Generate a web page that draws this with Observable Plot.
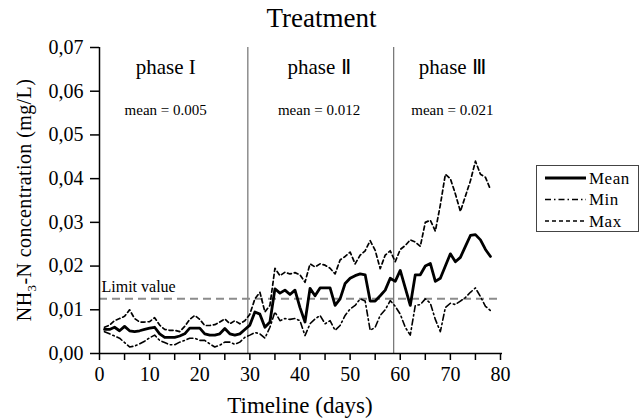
<!DOCTYPE html>
<html><head><meta charset="utf-8">
<script src="https://cdn.jsdelivr.net/npm/d3@7"></script>
<script src="https://cdn.jsdelivr.net/npm/@observablehq/plot@0.6"></script>
<style>
body{margin:0;background:#fff}
svg, svg text, svg tspan{font-family:"Liberation Serif","Times New Roman",serif !important}
</style>
</head><body><div id="chart"></div>
<script>
const days = [1,2,3,4,5,6,7,8,9,10,11,12,13,14,15,16,17,18,19,20,21,22,23,24,25,26,27,28,29,30,31,32,33,34,35,36,37,38,39,40,41,42,43,44,45,46,47,48,49,50,51,52,53,54,55,56,57,58,59,60,61,62,63,64,65,66,67,68,69,70,71,72,73,74,75,76,77,78];
const meanValues = [0.0055,0.0055,0.006,0.0052,0.0062,0.0052,0.005,0.0052,0.0055,0.0058,0.006,0.0045,0.0037,0.0037,0.0037,0.004,0.0045,0.0058,0.0058,0.0058,0.0045,0.0042,0.0042,0.0045,0.0057,0.0045,0.0042,0.0045,0.0055,0.0065,0.0095,0.009,0.006,0.0072,0.0148,0.0138,0.0145,0.0135,0.0145,0.0105,0.0072,0.0149,0.0132,0.015,0.015,0.015,0.011,0.0125,0.016,0.0172,0.0178,0.0182,0.018,0.012,0.012,0.0132,0.0145,0.0172,0.0165,0.019,0.015,0.011,0.018,0.018,0.02,0.0206,0.0165,0.0172,0.02,0.0228,0.021,0.022,0.0245,0.027,0.0272,0.026,0.0238,0.0222];
const minValues = [0.005,0.0045,0.004,0.0035,0.0025,0.0015,0.0017,0.0022,0.0028,0.0036,0.0042,0.003,0.0025,0.002,0.002,0.0026,0.003,0.0035,0.0035,0.003,0.003,0.0022,0.0015,0.0019,0.0026,0.0026,0.0021,0.0026,0.0037,0.0042,0.0048,0.0045,0.0035,0.006,0.0095,0.0075,0.008,0.0078,0.008,0.0075,0.0041,0.0068,0.0079,0.0087,0.0068,0.0075,0.0053,0.0064,0.0087,0.0102,0.011,0.0125,0.012,0.0053,0.006,0.0087,0.01,0.0121,0.0108,0.009,0.006,0.0042,0.011,0.0112,0.0125,0.0115,0.0078,0.005,0.0105,0.0115,0.0112,0.012,0.0128,0.014,0.015,0.013,0.0108,0.0098];
const maxValues = [0.006,0.0065,0.0075,0.008,0.0085,0.01,0.008,0.0072,0.0072,0.0073,0.0082,0.0065,0.0055,0.0053,0.0053,0.005,0.0062,0.0078,0.0087,0.0078,0.0064,0.0064,0.0066,0.0072,0.0079,0.0068,0.0075,0.0068,0.0075,0.009,0.0125,0.014,0.0095,0.011,0.0195,0.0178,0.0186,0.0182,0.0185,0.018,0.0163,0.0205,0.0198,0.0205,0.0202,0.0195,0.0182,0.0214,0.0222,0.0232,0.0205,0.0225,0.0235,0.0258,0.0236,0.0194,0.0225,0.0235,0.021,0.0238,0.0247,0.026,0.0255,0.0245,0.03,0.0305,0.028,0.034,0.041,0.04,0.0365,0.0325,0.036,0.0395,0.044,0.041,0.0403,0.0375];

const xTicks = [0,5,10,15,20,25,30,35,40,45,50,55,60,65,70,75,80];
const yTicks = [0,0.01,0.02,0.03,0.04,0.05,0.06,0.07];
const phaseBounds = [29.6, 58.7];
const phaseNames = ["phase I", "phase Ⅱ", "phase Ⅲ"];
const phaseMeans = ["mean = 0.005", "mean = 0.012", "mean = 0.021"];
const phaseCenters = [13.2, 43.8, 70.4];
const limitValue = 0.0125;
const seriesNames = ["Mean", "Min", "Max"];

const rows = days.map((d, i) => ({day: d, mean: meanValues[i], min: minValues[i], max: maxValues[i]}));
const phases = phaseNames.map((n, i) => ({name: n, mean: phaseMeans[i], x: phaseCenters[i]}));

const chart = Plot.plot({
  width: 642, height: 419,
  marginLeft: 99, marginRight: 142, marginTop: 47, marginBottom: 66,
  x: {domain: [0, 80]},
  y: {domain: [0, 0.07]},
  style: {color: "#000", background: "#fff"},
  marks: [
    Plot.axisY({ticks: yTicks, tickFormat: d => d.toFixed(2).replace(".", ","), tickSize: 9, tickPadding: 7, fontSize: 20, label: null, stroke: "#000", strokeWidth: 1.5}),
    Plot.axisX({ticks: xTicks, tickFormat: d => d % 10 === 0 ? String(d) : "", tickSize: 7, tickPadding: 6, fontSize: 20, label: null, stroke: "#000", strokeWidth: 1.5}),
    Plot.ruleX(phaseBounds, {y1: 0, y2: 0.07, stroke: "#555", strokeWidth: 1}),
    Plot.ruleY([limitValue], {x1: 0, x2: 80, stroke: "#8c8c8c", strokeWidth: 2, strokeDasharray: "8,5"}),
    Plot.text(["Limit value"], {x: 0.4, y: limitValue, dy: -12, textAnchor: "start", fontSize: 16, letterSpacing: 0.6}),
    Plot.line(rows, {x: "day", y: "min", stroke: "#000", strokeWidth: 1.6, strokeDasharray: "6,3,1.5,3"}),
    Plot.line(rows, {x: "day", y: "max", stroke: "#000", strokeWidth: 1.7, strokeDasharray: "4,3"}),
    Plot.line(rows, {x: "day", y: "mean", stroke: "#000", strokeWidth: 2.8}),
    Plot.ruleX([0], {y1: 0, y2: 0.07, stroke: "#000", strokeWidth: 1.5}),
    Plot.ruleY([0], {x1: 0, x2: 80.4, stroke: "#000", strokeWidth: 1.5}),
    Plot.text(phases, {x: "x", y: 0.0655, text: "name", fontSize: 21, letterSpacing: 0.7}),
    Plot.text(phases, {x: "x", y: 0.0556, text: "mean", fontSize: 15, letterSpacing: 0.8}),
    Plot.text(["Treatment"], {frameAnchor: "top", lineAnchor: "middle", dy: -29, dx: 21.5, fontSize: 27, letterSpacing: 0.8}),
    Plot.text(["Timeline (days)"], {frameAnchor: "bottom", lineAnchor: "middle", dy: 52, fontSize: 23, letterSpacing: 0.75})
  ]
});
document.getElementById("chart").append(chart);

const svg = d3.select(chart);
svg.selectAll("text").filter(function() { return this.getAttribute("letter-spacing"); }).each(function() {});
// y axis label with subscript
const yl = svg.append("text")
  .attr("transform", "translate(31,200) rotate(-90)")
  .attr("text-anchor", "middle")
  .attr("font-size", 20)
  .attr("letter-spacing", 0.4)
  .attr("fill", "#000");
yl.append("tspan").text("NH");
yl.append("tspan").attr("font-size", 13).attr("dy", 5).text("3");
yl.append("tspan").attr("dy", -5).text("-N concentration (mg/L)");

// legend
const lg = svg.append("g");
lg.append("rect").attr("x", 536.5).attr("y", 165.5).attr("width", 102).attr("height", 66)
  .attr("fill", "#fff").attr("stroke", "#444").attr("stroke-width", 1);
const dashes = [null, "6,3,1.5,3", "4,3"];
const widths = [2.8, 1.5, 1.6];
seriesNames.forEach((n, i) => {
  const yy = 178 + i * 21.5;
  lg.append("line").attr("x1", 545).attr("x2", 586).attr("y1", yy).attr("y2", yy)
    .attr("stroke", "#000").attr("stroke-width", widths[i]).attr("stroke-dasharray", dashes[i]);
  lg.append("text").attr("x", 589).attr("y", yy).attr("dy", "0.35em").attr("text-anchor", "start")
    .attr("font-size", 17).attr("letter-spacing", 0.5).text(n);
});
</script>
</body></html>
